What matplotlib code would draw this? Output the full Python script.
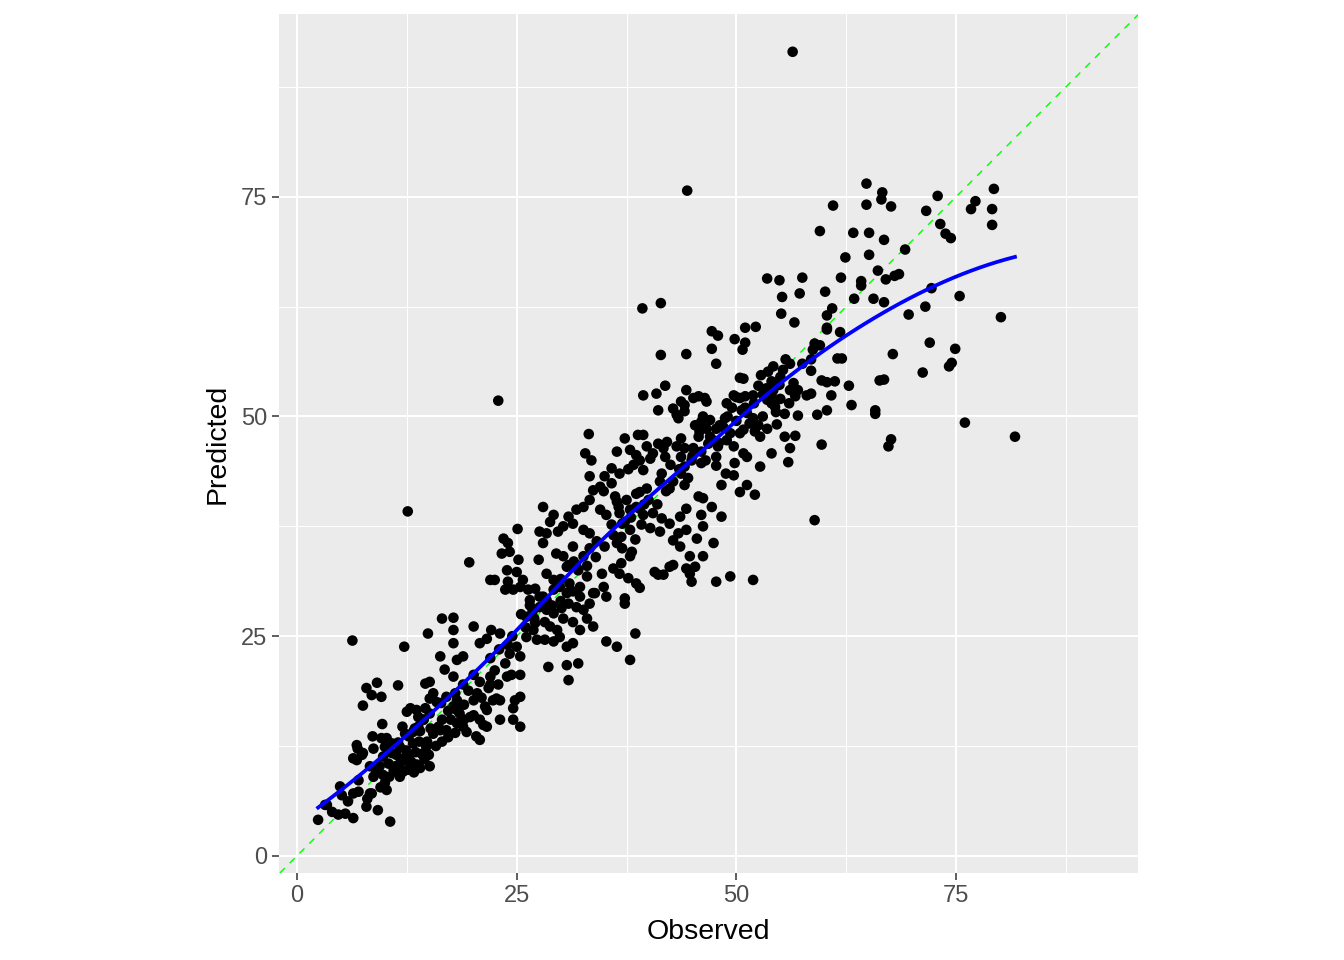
import numpy as np
import matplotlib
matplotlib.use("Agg")
import matplotlib.pyplot as plt
from matplotlib.ticker import FixedLocator

# ---------------- data ----------------
# outliers / isolated points
obs_a = [56.4, 44.4, 22.9, 12.6, 58.9, 67.3]
pred_a = [91.5, 75.7, 51.8, 39.2, 38.2, 46.6]

# upper-right region
obs_b = [64.8, 66.6, 66.5, 67.6, 64.8, 61.0, 72.9, 79.3, 77.2, 76.7, 79.1, 79.1, 71.6, 73.2, 73.8, 74.4,
         59.5, 63.3, 65.1, 66.8, 69.2, 62.4, 65.1, 66.1, 57.5, 61.9, 64.2, 64.2, 67.0, 68.0, 68.5, 54.9,
         55.2, 57.2, 60.1, 63.4, 65.6, 66.8, 72.2, 75.4, 71.5, 69.6, 80.1, 60.9, 60.3, 55.1, 56.6, 60.3,
         60.3, 61.8, 58.9, 59.5, 58.7, 72.0, 74.9, 67.8, 74.5, 74.2, 71.2, 55.6, 56.1, 55.3, 58.5, 61.5,
         62.0, 59.7, 60.3, 61.2, 62.8, 66.3, 66.8, 60.8, 56.5, 56.1, 56.7, 58.0, 58.5, 63.1, 65.8, 65.8,
         60.3, 59.2, 57.0, 55.5, 76.0, 81.7, 67.6, 56.7, 55.5, 53.5]
pred_b = [76.5, 75.5, 74.7, 73.9, 74.1, 74.0, 75.1, 75.9, 74.5, 73.6, 73.6, 71.8, 73.4, 71.9, 70.8, 70.3,
          71.1, 70.9, 70.9, 70.1, 69.0, 68.1, 68.4, 66.6, 65.8, 65.8, 65.4, 64.9, 65.6, 66.0, 66.2, 65.5,
          63.6, 64.0, 64.2, 63.4, 63.4, 63.0, 64.6, 63.7, 62.5, 61.6, 61.3, 62.3, 61.5, 61.7, 60.7, 60.1,
          59.9, 59.6, 58.3, 58.1, 57.6, 58.4, 57.7, 57.1, 56.1, 55.7, 55.0, 56.5, 56.0, 55.3, 55.2, 56.6,
          56.6, 54.1, 53.9, 54.0, 53.5, 54.1, 54.2, 52.4, 53.8, 53.0, 52.3, 52.4, 52.6, 51.3, 50.7, 50.3,
          50.7, 50.2, 50.1, 50.3, 49.3, 47.7, 47.4, 47.8, 47.7, 65.7]

# 40-60 region
obs_c = [41.4, 39.3, 51.0, 52.2, 47.2, 47.9, 49.8, 51.0, 50.7, 47.2, 41.4, 44.3, 47.7, 54.2, 53.6, 52.8,
         52.5, 50.4, 50.8, 54.9, 54.2, 54.0, 53.5, 54.0, 54.4, 54.6, 53.5, 52.5, 52.1, 52.7, 59.7, 56.1,
         55.9, 54.0, 52.7, 50.8, 51.2, 49.8, 48.8, 49.7, 48.3, 47.7, 47.7, 46.0, 51.2, 50.4, 52.1, 47.2,
         46.8, 47.9, 48.9, 49.7, 49.3, 48.7, 48.5, 48.1, 47.0, 46.2, 50.4, 50.8, 51.5, 51.9, 51.2, 50.6,
         50.4, 51.0, 49.7, 45.1, 45.7, 46.4, 46.6, 44.3, 48.9, 42.8, 43.2, 43.4, 44.1, 43.7, 44.1, 40.9,
         39.4, 41.1, 45.3, 46.0, 46.6, 45.8, 45.7, 47.0, 47.7, 39.4, 39.8, 41.1, 42.1, 41.7, 40.5, 40.2,
         41.9, 43.7, 43.2, 44.1, 45.1, 43.7, 44.9, 44.1, 43.7, 42.8, 44.1, 42.4, 41.3, 39.8, 39.4, 41.9,
         50.0, 51.9, 53.4]
pred_c = [62.9, 62.3, 60.1, 60.2, 59.7, 59.2, 58.8, 58.4, 57.6, 57.7, 57.0, 57.1, 56.0, 55.7, 55.1, 54.7,
          53.5, 54.4, 54.3, 53.6, 53.0, 52.4, 51.9, 51.5, 51.1, 49.1, 48.6, 49.0, 48.3, 47.7, 46.8, 46.4,
          44.8, 45.8, 44.3, 45.8, 45.4, 44.7, 43.5, 43.3, 42.2, 45.4, 44.4, 44.7, 42.2, 41.4, 41.1, 47.4,
          46.9, 46.6, 47.3, 46.6, 48.1, 49.8, 48.8, 49.0, 49.6, 50.0, 48.1, 48.5, 49.2, 49.8, 50.4, 50.7,
          52.1, 52.3, 52.4, 52.1, 52.3, 52.1, 51.7, 53.0, 51.5, 50.9, 50.2, 49.8, 51.3, 51.7, 50.6, 52.6,
          52.4, 50.7, 49.0, 49.4, 48.6, 48.3, 47.7, 47.7, 48.6, 47.9, 46.6, 46.9, 47.1, 46.4, 45.8, 45.2,
          45.4, 47.5, 46.6, 46.4, 46.4, 45.4, 45.0, 44.3, 43.5, 42.6, 42.2, 41.8, 42.6, 41.8, 43.9, 53.5,
          52.2, 52.4, 53.2]

# 28-52 region
obs_d = [33.2, 37.3, 38.8, 36.4, 32.8, 33.5, 35.8, 37.9, 38.6, 39.0, 38.3, 37.7, 36.7, 35.0, 35.8, 34.5,
         34.9, 33.7, 33.3, 36.2, 36.4, 36.6, 36.7, 37.5, 37.9, 38.6, 39.0, 38.6, 39.4, 39.2, 40.2, 41.5,
         41.3, 42.4, 43.6, 44.3, 45.7, 46.2, 47.2, 46.0, 44.3, 43.4, 42.8, 43.6, 44.7, 45.3, 44.3, 45.5,
         48.3, 46.2, 47.4, 51.9, 49.3, 47.7, 46.2, 44.7, 44.9, 42.4, 42.8, 36.7, 37.7, 38.6, 39.0, 40.7,
         41.1, 41.7, 34.7, 34.9, 33.9, 35.2, 37.3, 30.3, 29.5, 31.4, 30.9, 31.8, 32.6, 33.3, 28.0, 28.8,
         28.4, 29.7, 30.3, 31.4, 30.9, 31.8, 32.6, 33.3, 34.5, 35.2, 35.8, 37.3, 37.9, 36.9, 36.4, 35.0,
         34.1, 33.3, 32.6, 28.0, 29.2, 37.9, 38.1, 36.9, 36.0, 28.4, 29.2, 30.7, 32.2, 33.0, 31.4]
pred_d = [48.0, 47.5, 47.9, 46.0, 45.8, 45.0, 44.1, 46.2, 45.6, 45.0, 44.5, 44.0, 43.5, 43.2, 42.4, 42.0,
          41.5, 41.6, 43.2, 40.9, 40.3, 39.7, 39.0, 40.5, 39.4, 41.2, 41.4, 39.7, 38.8, 37.7, 37.3, 38.4,
          36.9, 37.8, 38.6, 39.5, 40.9, 40.7, 39.7, 38.8, 37.1, 36.7, 35.9, 35.2, 34.1, 32.9, 32.7, 36.1,
          38.6, 37.5, 35.6, 31.4, 31.8, 31.2, 34.1, 32.1, 31.2, 32.9, 33.1, 32.1, 31.6, 31.0, 30.5, 32.3,
          32.0, 32.0, 32.1, 30.6, 29.9, 29.5, 29.3, 34.1, 34.4, 35.2, 33.1, 32.9, 34.1, 35.0, 35.6, 38.0,
          36.7, 36.9, 37.5, 37.8, 38.6, 39.4, 39.7, 40.5, 39.4, 38.8, 37.7, 38.0, 37.1, 36.3, 35.6, 35.2,
          35.8, 36.7, 37.1, 39.7, 38.8, 34.1, 34.6, 33.3, 32.7, 32.1, 31.4, 32.9, 30.6, 31.8, 30.1]

# 14-38 region
obs_e = [25.1, 27.6, 23.5, 24.0, 23.3, 24.2, 25.2, 19.6, 22.0, 22.5, 23.9, 25.0, 24.0, 24.6, 23.7, 25.4,
         25.7, 26.3, 27.1, 27.5, 26.5, 27.6, 28.4, 29.2, 29.9, 30.7, 32.2, 33.7, 33.3, 32.6, 31.8, 30.9,
         30.1, 29.2, 28.4, 27.6, 26.8, 26.1, 27.1, 28.2, 28.8, 37.3, 38.5, 35.2, 36.4, 37.9, 30.7, 32.0,
         28.6, 30.9, 33.7, 33.0, 32.2, 31.4, 30.3, 29.6, 29.9, 30.7, 31.4, 29.2, 26.9, 26.1, 27.3, 28.2,
         25.0, 25.4, 24.2, 23.7, 22.5, 22.0, 24.4, 25.4, 23.1, 22.1, 21.6, 20.8, 20.1, 18.9, 18.2, 17.8,
         16.3, 16.8, 17.8, 18.9, 15.1, 14.6, 20.1, 20.8, 21.8, 22.9, 23.9, 16.5, 17.8, 17.8, 14.9]
pred_e = [37.2, 36.9, 36.1, 35.6, 34.4, 34.6, 33.7, 33.4, 31.4, 31.4, 32.5, 32.3, 31.2, 30.3, 30.3, 30.6,
          31.4, 30.3, 30.4, 33.7, 29.1, 29.5, 29.1, 30.3, 30.6, 29.9, 29.5, 29.9, 28.7, 28.0, 28.3, 28.7,
          28.2, 27.6, 28.0, 28.3, 27.8, 27.2, 26.5, 26.6, 26.1, 28.7, 25.3, 24.4, 23.8, 22.3, 21.7, 21.9,
          21.5, 20.0, 26.1, 27.0, 25.7, 26.6, 27.0, 25.7, 24.9, 23.8, 24.2, 24.4, 25.7, 24.9, 24.6, 24.6,
          23.8, 22.7, 23.0, 21.9, 21.1, 20.4, 20.6, 20.6, 25.3, 25.7, 24.7, 24.2, 26.1, 22.7, 22.3, 24.2,
          22.7, 21.2, 20.4, 19.5, 19.8, 19.6, 20.6, 19.8, 19.1, 19.5, 20.4, 27.0, 27.1, 25.7, 25.3]

# lower-left region
obs_f = [6.3, 12.2, 9.1, 7.9, 8.5, 9.6, 11.5, 7.5, 15.5, 15.1, 15.9, 12.9, 12.5, 13.6, 14.6, 15.1,
         14.4, 13.8, 13.2, 12.7, 9.7, 8.6, 6.9, 7.5, 6.8, 10.2, 10.0, 10.8, 11.7, 11.3, 11.7, 12.5,
         13.6, 15.1, 12.1, 11.1, 17.8, 16.3, 17.0, 18.2, 18.9, 19.3, 20.4, 20.8, 21.2, 20.1, 21.6, 22.7,
         23.1, 24.6, 25.4, 10.0, 10.2, 8.3, 9.2, 7.9, 6.4, 7.0, 4.9, 5.1, 3.4, 2.4, 4.7, 6.4,
         10.6, 6.8, 6.4, 7.4, 9.6, 8.7, 9.8, 9.4, 8.3, 8.7, 10.4, 11.0, 11.7, 12.9, 13.6, 14.7,
         25.4, 22.3, 21.4, 20.1, 18.2, 17.0, 18.2, 19.7, 20.8, 21.6, 23.1, 24.6, 24.8]
pred_f = [24.5, 23.8, 19.7, 19.1, 18.3, 18.1, 19.4, 17.1, 18.5, 17.9, 17.5, 16.8, 16.4, 16.6, 16.8, 16.2,
          15.5, 14.7, 14.1, 13.6, 15.0, 13.6, 12.2, 11.7, 10.9, 13.4, 12.4, 11.7, 12.4, 11.5, 10.5, 10.9,
          10.2, 10.2, 9.6, 9.6, 17.0, 14.3, 14.3, 15.1, 14.7, 14.1, 13.6, 13.2, 14.9, 16.0, 16.6, 17.9,
          17.7, 16.8, 14.7, 8.3, 7.5, 7.1, 5.2, 5.6, 7.1, 7.3, 7.9, 6.9, 5.8, 4.1, 4.7, 4.3,
          3.9, 12.6, 11.1, 11.5, 13.4, 12.2, 11.3, 10.2, 10.2, 9.0, 10.5, 9.8, 9.0, 10.0, 10.4, 12.4,
          18.1, 17.7, 17.0, 17.7, 17.7, 18.1, 16.6, 15.8, 15.5, 14.7, 15.5, 15.5, 17.7]

# points hidden inside the dense blobs of the cloud (estimated)
obs_g = [12.4, 13.2, 13.9, 14.2, 12.8, 13.5, 14.8, 11.5, 12.0, 13.0, 14.0, 15.2, 10.2, 10.8, 12.0, 12.3,
         13.4, 15.5, 16.1, 16.4, 13.8, 14.4, 3.2, 8.5, 7.0,
         17.5, 18.5, 19.0, 20.5, 21.0, 22.0, 19.5, 17.2, 16.5, 18.0,
         24.5, 26.0, 27.0, 25.5, 28.0, 29.0, 26.5, 23.0, 22.0, 24.0, 30.0, 31.0, 32.0, 33.0, 34.0, 31.5, 30.0,
         36.0, 37.0, 38.0, 39.0, 40.0, 41.0, 42.0, 40.5, 39.5, 38.5, 37.0, 41.5, 42.5, 43.5, 45.0, 46.0,
         46.5, 44.5,
         49.0, 50.0, 51.0, 52.0, 53.0, 54.0, 55.0, 49.5, 48.0, 53.0, 54.5, 56.0, 57.0, 55.0, 57.5, 58.5,
         9.0, 9.8, 10.5, 11.2, 11.8, 12.6, 13.3, 14.0, 14.5, 15.0, 15.8, 16.5, 17.2, 18.0, 19.0,
         5.5, 4.0, 5.8, 8.0, 9.5]
pred_g = [12.0, 12.8, 13.0, 11.6, 11.5, 11.8, 13.0, 12.9, 11.0, 10.7, 14.2, 14.5, 12.3, 12.8, 14.7, 13.9,
          14.5, 13.9, 14.7, 17.4, 15.8, 15.5, 5.8, 7.1, 8.6,
          15.5, 16.2, 17.2, 18.5, 18.0, 19.5, 18.8, 16.5, 15.5, 18.5,
          25.0, 26.0, 27.0, 27.5, 29.5, 28.5, 28.5, 23.5, 22.5, 24.0, 31.5, 31.0, 32.5, 33.0, 34.0, 33.5, 29.0,
          36.5, 37.8, 38.5, 39.5, 40.5, 40.0, 41.5, 39.0, 40.0, 36.0, 35.0, 43.5, 44.5, 44.0, 45.5, 46.0,
          45.0, 43.0,
          50.0, 49.5, 51.0, 51.5, 52.5, 54.0, 54.5, 51.0, 47.0, 50.0, 50.5, 51.5, 53.0, 52.0, 56.0, 56.5,
          9.5, 9.2, 9.0, 10.2, 9.4, 9.8, 9.5, 10.0, 11.0, 11.5, 12.5, 13.0, 13.5, 14.0, 15.5,
          4.8, 5.0, 6.2, 6.5, 7.8]

tick_values = [0, 25, 50, 75]
tick_labels = ["0", "25", "50", "75"]
x_label = "Observed"
y_label = "Predicted"

observed = np.array(obs_a + obs_b + obs_c + obs_d + obs_e + obs_f + obs_g)
predicted = np.array(pred_a + pred_b + pred_c + pred_d + pred_e + pred_f + pred_g)


# ---------------- loess smoother (like geom_smooth default) ----------------
def loess(x, y, xs, span=0.75):
    n = len(x)
    q = int(np.floor(n * span))
    out = []
    for x0 in xs:
        d = np.abs(x - x0)
        h = np.sort(d)[q - 1]
        w = np.clip(1 - (d / h) ** 3, 0, None) ** 3
        X = np.vstack([np.ones(n), x - x0, (x - x0) ** 2]).T
        W = np.sqrt(w)
        beta, *_ = np.linalg.lstsq(X * W[:, None], y * W, rcond=None)
        out.append(beta[0])
    return np.array(out)


xs = np.linspace(observed.min(), observed.max(), 80)
ys = loess(observed, predicted, xs)

# ---------------- figure ----------------
plt.rcParams["font.family"] = ["Liberation Sans", "DejaVu Sans"]
fig = plt.figure(figsize=(13.44, 9.6), dpi=100)
ax = fig.add_axes([279 / 1344, 87 / 960, 859 / 1344, 859 / 960])
ax.set_facecolor("#EBEBEB")

xlim = (-2.05, 95.7)
ylim = (-1.95, 95.8)
ax.set_xlim(*xlim)
ax.set_ylim(*ylim)

ax.xaxis.set_major_locator(FixedLocator(tick_values))
ax.yaxis.set_major_locator(FixedLocator(tick_values))
minor = [12.5, 37.5, 62.5, 87.5]
ax.xaxis.set_minor_locator(FixedLocator(minor))
ax.yaxis.set_minor_locator(FixedLocator(minor))
ax.set_xticklabels(tick_labels)
ax.set_yticklabels(tick_labels)

ax.grid(which="major", color="white", linewidth=1.5)
ax.grid(which="minor", color="white", linewidth=0.75)
ax.set_axisbelow(True)
for s in ax.spines.values():
    s.set_visible(False)

ax.tick_params(which="major", length=5, width=1.1, color="#333333",
               labelsize=17, labelcolor="#4D4D4D", pad=3.5)
ax.tick_params(which="minor", length=0)

# y = x reference line
ax.axline((0, 0), slope=1, color="#00FF00", linewidth=1.0,
          linestyle=(0, (5, 5)), zorder=2)
ax.scatter(observed, predicted, s=58, color="black", edgecolors="none", zorder=3)
ax.plot(xs, ys, color="#0000FF", linewidth=2.7, zorder=4)

ax.set_xlabel(x_label, fontsize=20.5, color="black", labelpad=9)
ax.set_ylabel(y_label, fontsize=20.5, color="black", labelpad=7)

fig.savefig("out.png", dpi=100)
